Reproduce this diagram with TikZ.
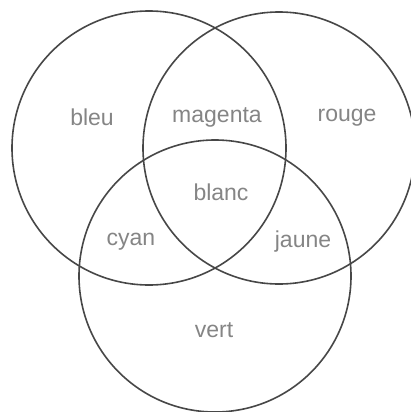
\documentclass[tikz,border=0pt]{standalone}
\usepackage{fontspec}
\setmainfont{Liberation Sans}
\definecolor{ring}{HTML}{474747}
\definecolor{lbl}{HTML}{858585}
\begin{document}
\begin{tikzpicture}[x=1pt,y=-1pt,
  ringline/.style={draw=ring,line width=1.6pt},
  region/.style={anchor=base,text=lbl,font=\fontsize{23}{25}\selectfont,inner sep=0pt}]
\useasboundingbox (0,0) rectangle (411,412);
\fill[white] (0,0) rectangle (411,412);
\coordinate (cl) at (149,148);
\coordinate (cr) at (279,148);
\coordinate (cb) at (215,276);
\draw[ringline] (cl) circle[radius=137];
\draw[ringline] (cr) circle[radius=136];
\draw[ringline] (cb) circle[radius=136];
\node[region] (bleu) at (92,125) {bleu};
\node[region] (magenta) at (217,122) {magenta};
\node[region] (rouge) at (347,121) {rouge};
\node[region] (blanc) at (221,200) {blanc};
\node[region] (cyan) at (131,245) {cyan};
\node[region] (jaune) at (303,247) {jaune};
\node[region] (vert) at (214,337) {vert};
\end{tikzpicture}
\end{document}
